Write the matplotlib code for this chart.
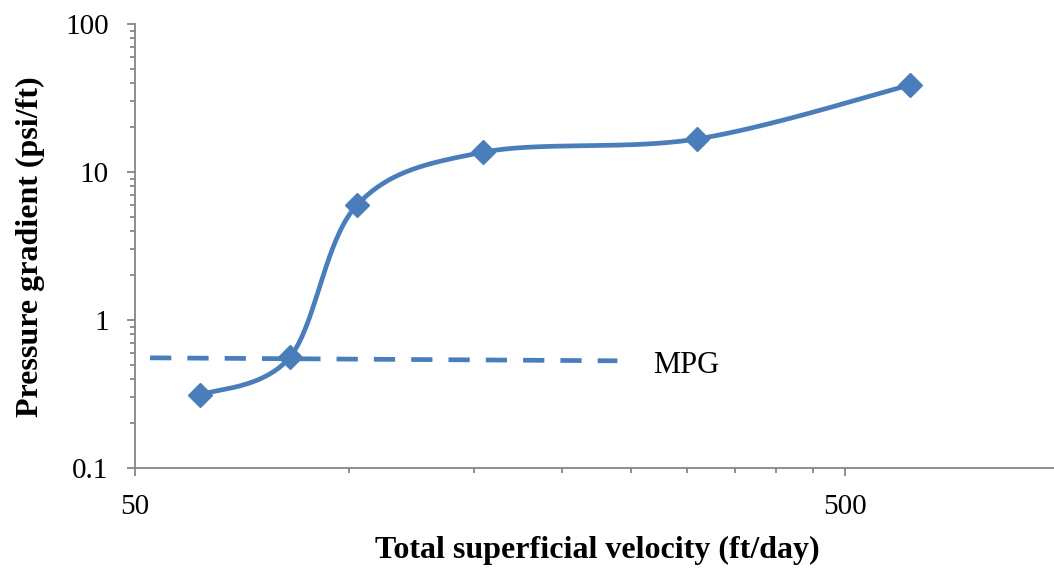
import numpy as np
import matplotlib
matplotlib.use("Agg")
import matplotlib.pyplot as plt
from matplotlib.ticker import FixedLocator, NullFormatter, FixedFormatter

# Measured data: total superficial velocity vs pressure gradient
velocity = [61.7, 82.6, 102.7, 154.6, 309.0, 617.0]      # ft/day
gradient = [0.311, 0.56, 5.98, 13.6, 16.7, 38.7]         # psi/ft

# Minimum pressure gradient (MPG) reference line
mpg_velocity = [52.5, 239.0]
mpg_gradient = [0.555, 0.53]
mpg_label_pos = (268.0, 0.49)

x_major = [50, 500]
x_major_labels = ["50", "500"]
y_major = [0.1, 1, 10, 100]
y_major_labels = ["0.1", "1", "10", "100"]

BLUE = "#4A7EBB"
AXIS_GREY = "#868686"
SERIF = ["Liberation Serif", "DejaVu Serif"]

fig = plt.figure(figsize=(10.54, 5.71), dpi=100)
ax = fig.add_axes([135 / 1054, (571 - 468) / 571, (1054 - 135) / 1054, (468 - 24) / 571])
ax.set_xscale("log")
ax.set_yscale("log")
ax.set_xlim(50, 50 * 10 ** ((1054 - 135) / 710))
ax.set_ylim(0.1, 100)


def smooth_curve(ax, xs, ys, n=40):
    """Cardinal (Catmull-Rom) Bezier smoothing in display space."""
    pts = ax.transData.transform(np.column_stack([xs, ys]))
    m = len(pts)
    out = []
    for i in range(m - 1):
        p0 = pts[i - 1] if i > 0 else pts[i]
        p1 = pts[i]
        p2 = pts[i + 1]
        p3 = pts[i + 2] if i + 2 < m else pts[i + 1]
        c1 = p1 + (p2 - p0) / 6.0
        c2 = p2 - (p3 - p1) / 6.0
        t = np.linspace(0, 1, n)[:, None]
        seg = ((1 - t) ** 3) * p1 + 3 * ((1 - t) ** 2) * t * c1 + 3 * (1 - t) * t ** 2 * c2 + t ** 3 * p2
        out.append(seg if i == 0 else seg[1:])
    out = np.vstack(out)
    data = ax.transData.inverted().transform(out)
    return data[:, 0], data[:, 1]


sx, sy = smooth_curve(ax, velocity, gradient)
ax.plot(sx, sy, color=BLUE, lw=3.4, solid_capstyle="round", zorder=3)
ax.plot(velocity, gradient, linestyle="none", marker="D", markersize=12.5,
        color=BLUE, zorder=4)

ax.plot(mpg_velocity, mpg_gradient, color=BLUE, lw=3.4, linestyle=(0, (4.5, 3.4)),
        zorder=2)
ax.text(*mpg_label_pos, "MPG", fontsize=22, family=SERIF, va="center", ha="left")

# Axes styling
for side in ("top", "right"):
    ax.spines[side].set_visible(False)
for side in ("left", "bottom"):
    ax.spines[side].set_color(AXIS_GREY)
    ax.spines[side].set_linewidth(1.3)

ax.xaxis.set_major_locator(FixedLocator(x_major))
ax.xaxis.set_major_formatter(FixedFormatter(x_major_labels))
ax.xaxis.set_minor_locator(FixedLocator([50 * k for k in range(2, 10)] + [1000]))
ax.xaxis.set_minor_formatter(NullFormatter())

ax.yaxis.set_major_locator(FixedLocator(y_major))
ax.yaxis.set_major_formatter(FixedFormatter(y_major_labels))
ax.yaxis.set_minor_locator(FixedLocator(
    [d * k for d in (0.1, 1, 10) for k in range(2, 10)]))
ax.yaxis.set_minor_formatter(NullFormatter())

ax.tick_params(which="major", direction="out", length=6, width=1.3,
               color=AXIS_GREY, labelsize=21, pad=13)
ax.tick_params(which="minor", direction="out", length=3.6, width=1.3,
               color=AXIS_GREY)
for lbl in ax.get_xticklabels() + ax.get_yticklabels():
    lbl.set_fontfamily(SERIF)

ax.set_xlabel("Total superficial velocity (ft/day)", fontsize=23, fontweight="bold",
              family=SERIF)
ax.set_ylabel("Pressure gradient (psi/ft)", fontsize=23, fontweight="bold",
              family=SERIF)
ax.xaxis.set_label_coords((597 - 135) / (1054 - 135), -(550 - 468) / (468 - 24))
ax.yaxis.set_label_coords(-(135 - 30) / (1054 - 135), (468 - 247) / (468 - 24))
ax.xaxis.label.set_va("center")
ax.yaxis.label.set_va("center")

fig.savefig("out.png", dpi=100)
